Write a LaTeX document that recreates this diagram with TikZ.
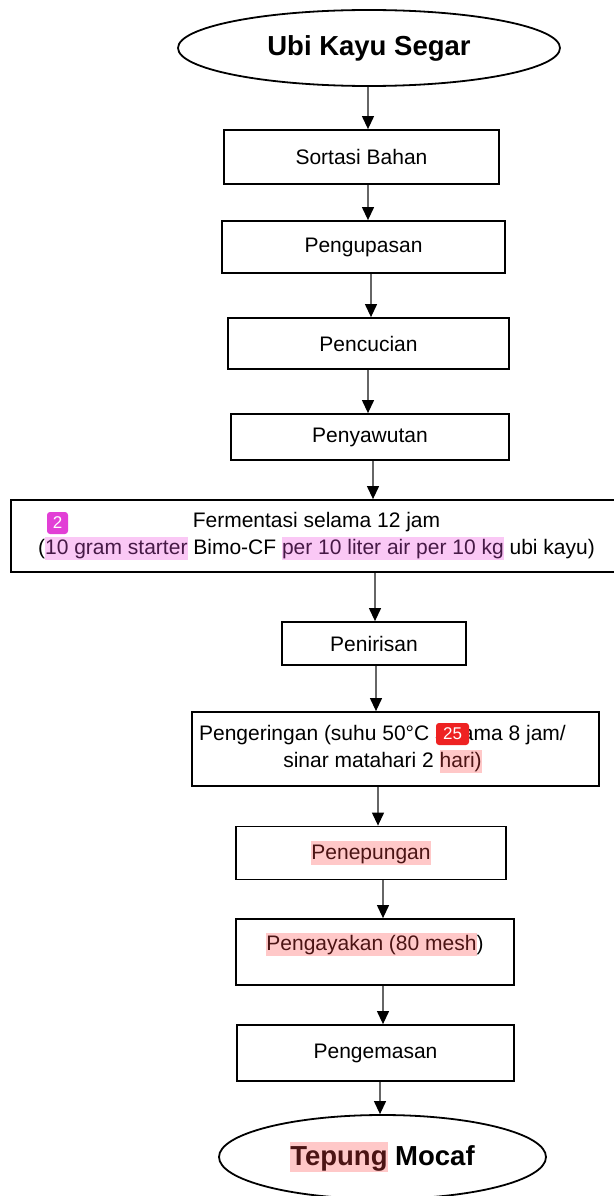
\documentclass[tikz,border=0pt]{standalone}
\usepackage{fontspec}
\setmainfont{Liberation Sans}
\usetikzlibrary{shapes.geometric,arrows.meta}

\definecolor{hlpink}{RGB}{250,200,245}
\definecolor{hlpinktext}{RGB}{70,25,70}
\definecolor{hlred}{RGB}{255,200,200}
\definecolor{hlredtext}{RGB}{75,20,20}
\definecolor{badgepink}{RGB}{226,63,214}
\definecolor{badgered}{RGB}{238,34,34}

\newcommand{\hlpk}[1]{{\setlength{\fboxsep}{0pt}\colorbox{hlpink}{\rule[-0.25em]{0pt}{1.1em}\textcolor{hlpinktext}{#1}}}}
\newcommand{\hlrd}[1]{{\setlength{\fboxsep}{0pt}\colorbox{hlred}{\rule[-0.25em]{0pt}{1.1em}\textcolor{hlredtext}{#1}}}}

\begin{document}
\begin{tikzpicture}[x=1pt, y=-1pt,
    every node/.style={font=\fontsize{21}{27}\selectfont, inner sep=0pt},
    stepbox/.style={draw, line width=1.8pt, rectangle, align=center},
    endpoint/.style={draw, line width=1.8pt, ellipse, font=\fontsize{27.5}{33}\selectfont\bfseries},
    conn/.style={draw=black!60, line width=1.2pt, -{Triangle[width=12pt, length=13pt, color=black]}},
    badge/.style={rounded corners=3pt, text=white, font=\fontsize{17}{17}\selectfont, minimum height=22pt}]
    \useasboundingbox (0,0) rectangle (613,1196);

    \node[endpoint, minimum width=382pt, minimum height=76pt] (ubi) at (369,48) {Ubi Kayu Segar};
    \node[stepbox, minimum width=275pt, minimum height=54pt] (sortasi) at (361.5,157) {Sortasi Bahan};
    \node[stepbox, minimum width=283pt, minimum height=52pt] (kupas) at (363.5,247) {Pengupasan};
    \node[stepbox, minimum width=281pt, minimum height=51pt] (cuci) at (368.5,343.5) {Pencucian};
    \node[stepbox, minimum width=278pt, minimum height=46pt] (sawut) at (370,437) {Penyawutan};
    \node[stepbox, minimum width=611pt, minimum height=72pt] (fermen) at (316.5,536)
        {Fermentasi selama 12 jam\\(\hlpk{10 gram starter} Bimo-CF \hlpk{per 10 liter air per 10 kg} ubi kayu)};
    \node[stepbox, minimum width=184pt, minimum height=43pt] (tiris) at (374,643.5) {Penirisan};
    \node[stepbox, minimum width=407pt, minimum height=74pt] (kering) at (395.5,749)
        {Pengeringan (suhu 50°C selama 8 jam/\hspace*{26pt}\\sinar matahari 2 \hlrd{hari)}\hspace*{26pt}};
    \node[stepbox, minimum width=270pt, minimum height=53pt] (tepung) at (371,853) {\hlrd{Penepungan}};
    \node[stepbox, minimum width=278pt, minimum height=66pt, text depth=20pt] (ayak) at (375,952)
        {\hlrd{Pengayakan (80 mesh})};
    \node[stepbox, minimum width=277pt, minimum height=56pt] (kemas) at (375.5,1053) {Pengemasan};
    \node[endpoint, minimum width=327pt, minimum height=84pt] (mocaf) at (382.5,1157) {\hlrd{Tepung} Mocaf};

    \foreach \a/\b/\x in {ubi/sortasi/368, sortasi/kupas/368, kupas/cuci/371, cuci/sawut/368,
        sawut/fermen/373, fermen/tiris/375, tiris/kering/376, kering/tepung/378,
        tepung/ayak/383, ayak/kemas/383, kemas/mocaf/380} {
        \draw[conn] (\a.south -| \x,0) -- (\b.north -| \x,0);
    };

    \node[badge, fill=badgepink, minimum width=21pt] (badgefermen) at (57.5,523) {2};
    \node[badge, fill=badgered, minimum width=33pt] (badgekering) at (452.5,734) {25};
\end{tikzpicture}
\end{document}
